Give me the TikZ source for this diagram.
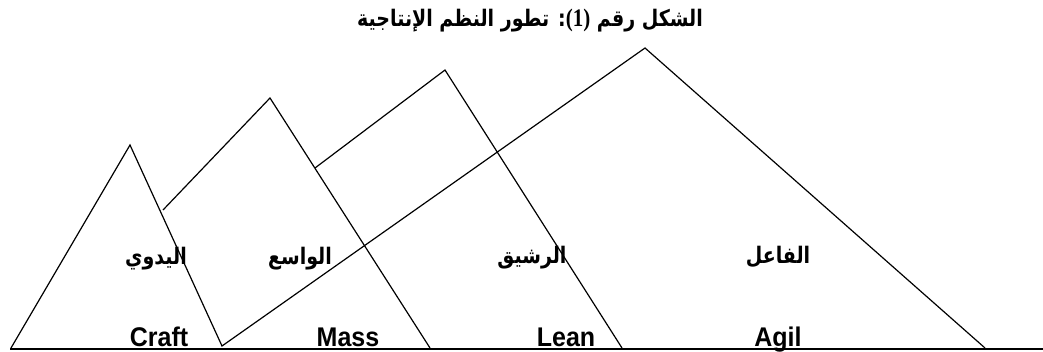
\documentclass[tikz,border=0pt]{standalone}
\usepackage{fontspec}
\setmainfont{Liberation Serif}
\TeXXeTstate=1
\newfontfamily\arabicfont[Script=Arabic]{DejaVu Sans}
\newfontfamily\latinsans{Liberation Sans}
\newfontfamily\latinserif{Liberation Serif}
\tikzset{
  edge/.style={line width=1.2pt, line join=miter},
  baseline line/.style={line width=2.2pt},
  ar label/.style={font=\arabicfont\bfseries\fontsize{19}{22}\selectfont, inner sep=0pt, anchor=center},
  en label/.style={font=\latinsans\bfseries\fontsize{25}{28}\selectfont, inner sep=0pt, anchor=base},
  title/.style={inner sep=0pt, anchor=center}
}
\begin{document}
\begin{tikzpicture}[x=1pt,y=-1pt]
\useasboundingbox (0,0) rectangle (1043,351);
% key points
\coordinate (CL) at (11,348);
\coordinate (CA) at (130,145);
\coordinate (CR) at (222,346);
\coordinate (MJ) at (163,210);
\coordinate (MA) at (270,98);
\coordinate (MR) at (430,348);
\coordinate (LJ) at (315,168);
\coordinate (LA) at (445,70);
\coordinate (LR) at (622,348);
\coordinate (AA) at (645,48);
\coordinate (AR) at (985,348);
\coordinate (B0) at (10,349);
\coordinate (B1) at (1043,349);
% shapes
\draw[edge] (CL) -- (CA) -- (CR) -- (AA) -- (AR);
\draw[edge] (MJ) -- (MA) -- (MR);
\draw[edge] (LJ) -- (LA) -- (LR);
\draw[baseline line] (B0) -- (B1);
% title
\node[title] (T) at (530,21) {\scalebox{1}[1.2]{\arabicfont\bfseries\fontsize{19}{22}\selectfont\beginR الشكل رقم {\latinserif\bfseries\fontsize{21}{22}\selectfont\beginL(1)\endL}: تطور النظم الإنتاجية\endR}};
% arabic labels
\node[ar label] (a1) at (156,259) {\scalebox{1}[1.2]{\beginR اليدوي\endR}};
\node[ar label] (a2) at (300,259) {\scalebox{1}[1.2]{\beginR الواسع\endR}};
\node[ar label] (a3) at (532,258) {\scalebox{1}[1.2]{\beginR الرشيق\endR}};
\node[ar label] (a4) at (778,257) {\scalebox{1}[1.2]{\beginR الفاعل\endR}};
% english labels
\node[en label] (e1) at (159,346) {\scalebox{1}[1.08]{Craft}};
\node[en label] (e2) at (348,346) {\scalebox{1}[1.08]{Mass}};
\node[en label] (e3) at (566,346) {\scalebox{1}[1.08]{Lean}};
\node[en label] (e4) at (778,346) {\scalebox{1}[1.08]{Agil}};
\end{tikzpicture}
\end{document}
